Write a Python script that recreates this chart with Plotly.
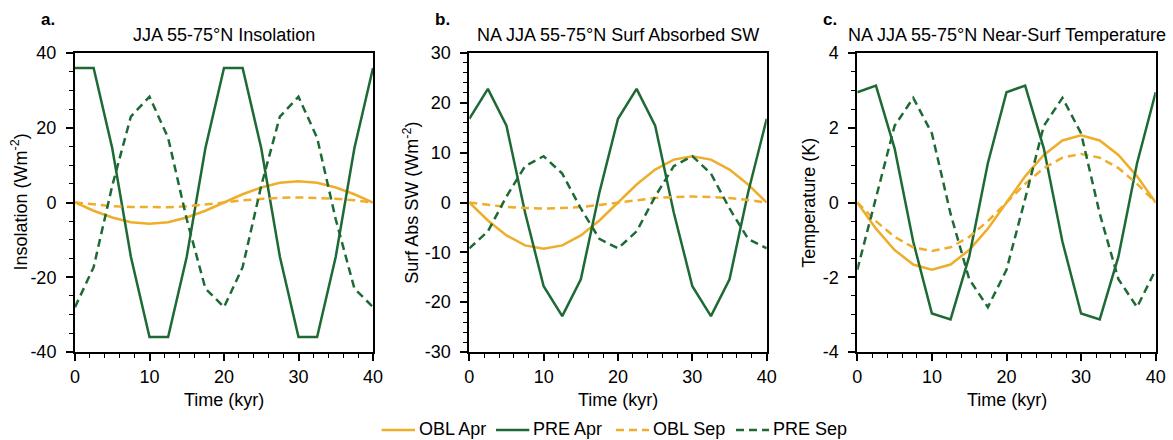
import plotly.graph_objects as go

# ---------------- data ----------------
time_kyr = [0, 2.5, 5, 7.5, 10, 12.5, 15, 17.5, 20, 22.5, 25, 27.5, 30, 32.5, 35, 37.5, 40]

# panel a: JJA 55-75N insolation (W m-2)
obl_apr_a = [0, -2.2, -4.0, -5.3, -5.7, -5.3, -4.0, -2.2, 0, 2.2, 4.0, 5.3, 5.7, 5.3, 4.0, 2.2, 0]
pre_apr_a = [36, 36, 14.5, -14.5, -36, -36, -14.5, 14.5, 36, 36, 14.5, -14.5, -36, -36, -14.5, 14.5, 36]
obl_sep_a = [0, -0.6, -1.0, -1.2, -1.3, -1.25, -1.0, -0.6, 0, 0.6, 1.0, 1.25, 1.35, 1.25, 1.0, 0.6, 0]
pre_sep_a = [-28, -17.3, 4.5, 23, 28.3, 17.3, -4.5, -23, -28, -17.3, 4.5, 23, 28.3, 17.3, -4.5, -23, -28]

# panel b: NA JJA 55-75N surface absorbed SW (W m-2)
obl_apr_b = [0, -3.6, -6.6, -8.6, -9.3, -8.6, -6.6, -3.6, 0, 3.6, 6.6, 8.6, 9.3, 8.6, 6.6, 3.6, 0]
pre_apr_b = [16.8, 22.8, 15.4, -2.0, -16.8, -22.8, -15.4, 2.0, 16.8, 22.8, 15.4, -2.0, -16.8, -22.8, -15.4, 2.0, 16.8]
obl_sep_b = [0, -0.5, -0.9, -1.1, -1.2, -1.1, -0.9, -0.5, 0, 0.5, 0.9, 1.1, 1.2, 1.1, 0.9, 0.5, 0]
pre_sep_b = [-9.2, -5.8, 1.2, 7.3, 9.3, 5.8, -1.2, -7.3, -9.2, -5.8, 1.2, 7.3, 9.3, 5.8, -1.2, -7.3, -9.2]

# panel c: NA JJA 55-75N near-surface temperature (K)
obl_apr_c = [0, -0.7, -1.27, -1.66, -1.8, -1.66, -1.27, -0.7, 0, 0.7, 1.27, 1.66, 1.8, 1.66, 1.27, 0.7, 0]
pre_apr_c = [2.95, 3.13, 1.45, -1.05, -2.97, -3.13, -1.45, 1.05, 2.95, 3.13, 1.45, -1.05, -2.97, -3.13, -1.45, 1.05, 2.95]
obl_sep_c = [0, -0.5, -0.92, -1.2, -1.3, -1.2, -0.92, -0.5, 0, 0.5, 0.92, 1.2, 1.3, 1.2, 0.92, 0.5, 0]
pre_sep_c = [-1.8, 0.1, 2.05, 2.8, 1.85, -0.3, -2.05, -2.8, -1.8, 0.1, 2.05, 2.8, 1.85, -0.3, -2.05, -2.8, -1.8]

series_names = ["OBL Apr", "PRE Apr", "OBL Sep", "PRE Sep"]

panel_titles = ["JJA 55-75°N Insolation",
                "NA JJA 55-75°N Surf Absorbed SW",
                "NA JJA 55-75°N Near-Surf Temperature"]
panel_letters = ["a.", "b.", "c."]
y_titles = ["Insolation (Wm<sup>-2</sup>)", "Surf Abs SW (Wm<sup>-2</sup>)", "Temperature (K)"]
x_title = "Time (kyr)"

x_ticks = [0, 10, 20, 30, 40]
y_ticks_a = [-40, -20, 0, 20, 40]
y_ticks_b = [-30, -20, -10, 0, 10, 20, 30]
y_ticks_c = [-4, -2, 0, 2, 4]

# ---------------- styling ----------------
W, H = 1173, 440
ORANGE = "#EEAD2B"
GREEN = "#1E6A35"
FONT = "Liberation Sans, Arial, Helvetica, sans-serif"
FS = 18
DASH = "8px,5px"

styles = [dict(color=ORANGE, dash="solid"), dict(color=GREEN, dash="solid"),
          dict(color=ORANGE, dash=DASH), dict(color=GREEN, dash=DASH)]

panels = [
    dict(series=[obl_apr_a, pre_apr_a, obl_sep_a, pre_sep_a], yticks=y_ticks_a, yrange=[-40, 40], ydminor=5,
         xpx=(75, 373)),
    dict(series=[obl_apr_b, pre_apr_b, obl_sep_b, pre_sep_b], yticks=y_ticks_b, yrange=[-30, 30], ydminor=2,
         xpx=(469.3, 766.7)),
    dict(series=[obl_apr_c, pre_apr_c, obl_sep_c, pre_sep_c], yticks=y_ticks_c, yrange=[-4, 4], ydminor=0.5,
         xpx=(857.3, 1155.7)),
]
ytop_px, ybot_px = 53, 352
ydom = [1 - ybot_px / H, 1 - ytop_px / H]

fig = go.Figure()
annotations = []
shapes = []
layout_axes = {}

for i, p in enumerate(panels):
    sfx = "" if i == 0 else str(i + 1)
    for j, (name, vals) in enumerate(zip(series_names, p["series"])):
        fig.add_trace(go.Scatter(
            x=time_kyr, y=vals, mode="lines", name=name,
            line=dict(color=styles[j]["color"], dash=styles[j]["dash"], width=2.5),
            xaxis="x" + sfx, yaxis="y" + sfx, showlegend=False,
        ))
    xdom = [p["xpx"][0] / W, p["xpx"][1] / W]
    lo, hi = p["yrange"]
    nminor = int(round((hi - lo) / p["ydminor"]))
    yminor = [lo + k * p["ydminor"] for k in range(nminor + 1)]
    layout_axes["xaxis" + sfx] = dict(
        domain=xdom, anchor="y" + sfx, range=[0, 40], automargin=False,
        tickmode="array", tickvals=x_ticks, ticktext=[str(v) for v in x_ticks],
        ticks="outside", ticklen=7, tickwidth=1.5, tickcolor="black",
        minor=dict(tickmode="array", tickvals=list(range(0, 41, 2)), ticks="outside", ticklen=4,
                   tickwidth=1.2, tickcolor="black", showgrid=False),
        showline=True, linewidth=2, linecolor="black", mirror=True,
        showgrid=False, zeroline=False, ticklabelstandoff=0,
        tickfont=dict(family=FONT, size=FS, color="black"),
    )
    layout_axes["yaxis" + sfx] = dict(
        domain=ydom, anchor="x" + sfx, range=[lo, hi], automargin=False,
        tickmode="array", tickvals=p["yticks"], ticktext=[str(v) for v in p["yticks"]],
        ticks="outside", ticklen=7, tickwidth=1.5, tickcolor="black",
        minor=dict(tickmode="array", tickvals=yminor, ticks="outside", ticklen=4,
                   tickwidth=1.2, tickcolor="black", showgrid=False),
        showline=True, linewidth=2, linecolor="black", mirror=True,
        showgrid=False, zeroline=False, ticklabelstandoff=6,
        tickfont=dict(family=FONT, size=FS, color="black"),
    )
    cx = (p["xpx"][0] + p["xpx"][1]) / 2
    annotations.append(dict(text=panel_titles[i], x=cx / W, y=1 - 35 / H, xref="paper", yref="paper",
                            xanchor="center", yanchor="middle", showarrow=False,
                            font=dict(family=FONT, size=FS, color="black")))
    annotations.append(dict(text="<b>" + panel_letters[i] + "</b>", x=(p["xpx"][0] - 36) / W, y=1 - 19 / H,
                            xref="paper", yref="paper", xanchor="left", yanchor="middle", showarrow=False,
                            font=dict(family=FONT, size=FS - 1, color="black")))
    annotations.append(dict(text=x_title, x=cx / W, y=1 - 400 / H, xref="paper", yref="paper",
                            xanchor="center", yanchor="middle", showarrow=False,
                            font=dict(family=FONT, size=FS, color="black")))
    yt_off = [55, 58, 49][i]
    annotations.append(dict(text=y_titles[i], x=(p["xpx"][0] - yt_off) / W, y=1 - 202.5 / H,
                            xref="paper", yref="paper", xanchor="center", yanchor="middle",
                            textangle=-90, showarrow=False,
                            font=dict(family=FONT, size=FS, color="black")))

# ---------------- legend (drawn as line samples + labels, below the panels) ----------------
legend_line_x = [(381.7, 415), (496, 529.3), (616, 649), (736, 769)]
legend_line_y = 1 - 430 / H
for (x0, x1), name, st in zip(legend_line_x, series_names, styles):
    shapes.append(dict(type="line", xref="paper", yref="paper", x0=x0 / W, x1=x1 / W,
                       y0=legend_line_y, y1=legend_line_y,
                       line=dict(color=st["color"], width=2.5, dash=st["dash"])))
    annotations.append(dict(text=name, x=(x1 + 3) / W, y=0, xref="paper", yref="paper",
                            xanchor="left", yanchor="bottom", showarrow=False, borderpad=0,
                            font=dict(family=FONT, size=FS, color="black")))

fig.update_layout(
    width=W, height=H,
    margin=dict(l=0, r=0, t=0, b=0, pad=0),
    paper_bgcolor="white", plot_bgcolor="white",
    font=dict(family=FONT, size=FS, color="black"),
    showlegend=False,
    annotations=annotations,
    shapes=shapes,
    **layout_axes,
)

fig.write_html(
    "out.html",
    config={"displayModeBar": False},
    post_script="document.body.style.margin='0';document.body.style.padding='0';"
                "document.body.style.overflow='hidden';",
)
